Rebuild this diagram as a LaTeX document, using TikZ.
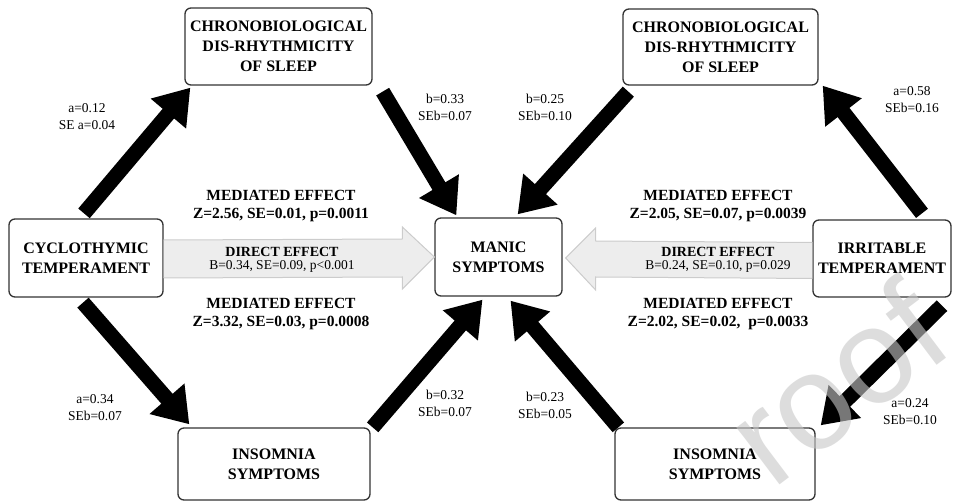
\documentclass[tikz,border=0pt]{standalone}
\usepackage{fontspec}
\setmainfont{Liberation Serif}
\newfontfamily\wmfont{Liberation Sans}
\usetikzlibrary{arrows.meta,calc}
\tikzset{
  box/.style={draw=black!80, line width=1.3pt, rounded corners=6pt, fill=white, align=center,
    inner sep=0pt, font=\fontsize{16}{20}\selectfont\bfseries},
  big/.style={line width=15pt, -{Triangle[width=44pt,length=34pt]}, black},
  garrow/.style={draw=black!20, fill=black!7, line width=1pt, line join=miter},
  lab/.style={align=center, font=\fontsize{13.5}{17}\selectfont, inner sep=0pt},
  med/.style={align=center, font=\fontsize{15.5}{18}\selectfont\bfseries, inner sep=0pt},
  dir/.style={align=center, inner sep=0pt},
  wm/.style={text=black!22, opacity=0.6, font=\wmfont\fontsize{135}{135}\selectfont, inner sep=0pt},
}
\newcommand{\dirtext}[2]{{\fontsize{14}{16}\selectfont\bfseries #1}\\[1pt]{\fontsize{13.5}{16}\selectfont #2}}
\begin{document}
\begin{tikzpicture}[x=1pt,y=-1pt]
\useasboundingbox (0,0) rectangle (953,502);
% boxes
\node[box, minimum width=187pt, minimum height=77pt] (tl) at (278.5,46.5) {CHRONOBIOLOGICAL\\DIS-RHYTHMICITY\\OF SLEEP};
\node[box, minimum width=195pt, minimum height=76pt] (tr) at (720.5,47) {CHRONOBIOLOGICAL\\DIS-RHYTHMICITY\\OF SLEEP};
\node[box, minimum width=154pt, minimum height=78pt] (cyc) at (86,258) {CYCLOTHYMIC\\TEMPERAMENT};
\node[box, minimum width=138pt, minimum height=77pt] (irr) at (882,258.5) {IRRITABLE\\TEMPERAMENT};
\node[box, minimum width=127pt, minimum height=78pt] (manic) at (498.5,257) {MANIC\\SYMPTOMS};
\node[box, minimum width=192pt, minimum height=72pt] (bl) at (274,464) {INSOMNIA\\SYMPTOMS};
\node[box, minimum width=200pt, minimum height=72pt] (br) at (715,464) {INSOMNIA\\SYMPTOMS};
% gray block arrows
\draw[garrow] ($(cyc.east)+(0,-18)$) -- ($(manic.west)+(-32,-18)$) -- ($(manic.west)+(-32,-30)$)
  -- (manic.west) -- ($(manic.west)+(-32,32)$) -- ($(manic.west)+(-32,20)$) -- ($(cyc.east)+(0,20)$);
\draw[garrow] ($(irr.west)+(0,-16)$) -- ($(manic.east)+(33,-16)$) -- ($(manic.east)+(33,-29)$)
  -- ($(manic.east)+(3,1)$) -- ($(manic.east)+(33,33)$) -- ($(manic.east)+(33,20)$) -- ($(irr.west)+(0,20)$);
% black arrows
\draw[big] ($(cyc.north)+(-2,-5)$) -- ($(tl.south west)+(6,2)$);
\draw[big] ($(tl.south east)+(10,6)$) -- ($(manic.north west)+(22,-2)$);
\draw[big] ($(tr.south west)+(6,6)$) -- ($(manic.north east)+(-45,-3)$);
\draw[big] ($(irr.north)+(40,-6)$) -- ($(tr.south east)+(4,0)$);
\draw[big] ($(cyc.south)+(-3,5)$) -- ($(bl.north west)+(12,-3)$);
\draw[big] ($(bl.north east)+(2,0)$) -- ($(manic.south)+(-16,3)$);
\draw[big] ($(br.north west)+(4,0)$) -- ($(manic.south)+(12,4)$);
\draw[big] ($(irr.south)+(60,8)$) -- ($(br.north east)+(5,-2)$);
% path labels
\node[lab] (l1) at (87,117) {a=0.12\\SE a=0.04};
\node[lab] (l2) at (445,107) {b=0.33\\SEb=0.07};
\node[lab] (l3) at (545,107) {b=0.25\\SEb=0.10};
\node[lab] (l4) at (912,100) {a=0.58\\SEb=0.16};
\node[lab] (l5) at (95,408) {a=0.34\\SEb=0.07};
\node[lab] (l6) at (445,403) {b=0.32\\SEb=0.07};
\node[lab] (l7) at (545,405) {b=0.23\\SEb=0.05};
\node[lab] (l8) at (910,412) {a=0.24\\SEb=0.10};
% effects
\node[med] (m1) at (281,206) {MEDIATED EFFECT\\Z=2.56, SE=0.01, p=0.0011};
\node[dir] (d1) at (282,260) {\dirtext{DIRECT EFFECT}{B=0.34, SE=0.09, p<0.001}};
\node[med] (m2) at (281,314) {MEDIATED EFFECT\\Z=3.32, SE=0.03, p=0.0008};
\node[med] (m3) at (718,206) {MEDIATED EFFECT\\Z=2.05, SE=0.07, p=0.0039};
\node[dir] (d2) at (718,260) {\dirtext{DIRECT EFFECT}{B=0.24, SE=0.10, p=0.029}};
\node[med] (m4) at (718,314) {MEDIATED EFFECT\\Z=2.02, SE=0.02,\ \ p=0.0033};
% watermark (only its visible end)
\begin{scope}
\clip (0,0) rectangle (953,502);
\node[wm, anchor=base east, rotate=37] (wmark) at (958,350) {roof};
\end{scope}
\end{tikzpicture}
\end{document}
